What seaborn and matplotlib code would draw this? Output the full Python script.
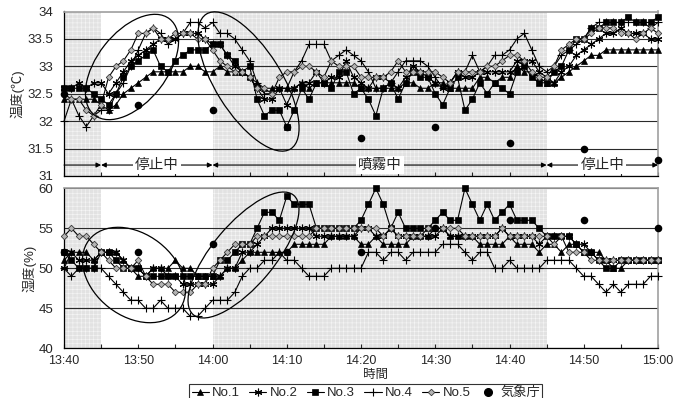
import matplotlib
matplotlib.use("Agg")
import matplotlib.pyplot as plt
import matplotlib.lines as mlines
from matplotlib.patches import Ellipse
from matplotlib.transforms import IdentityTransform
from matplotlib.ticker import FuncFormatter, MultipleLocator
import seaborn as sns

sns.set_style("white")
plt.rcParams['font.family'] = ['Liberation Sans', 'Noto Sans CJK JP']
plt.rcParams['hatch.linewidth'] = 0.4

# ---------------- data ----------------
minutes = list(range(81))          # 13:40 .. 15:00, every minute
tick_minutes = [0, 10, 20, 30, 40, 50, 60, 70, 80]
tick_labels = ["13:40", "13:50", "14:00", "14:10", "14:20", "14:30", "14:40", "14:50", "15:00"]
series_names = ["No.1", "No.2", "No.3", "No.4", "No.5"]

temp_no1 = [32.4, 32.4, 32.4, 32.4, 32.4, 32.3, 32.2, 32.3, 32.5, 32.6,
            32.7, 32.8, 32.9, 32.9, 32.9, 32.9, 32.9, 33.0, 33.0, 32.9,
            32.9, 33.0, 32.9, 32.9, 32.9, 32.8, 32.7, 32.6, 32.6, 32.6,
            32.6, 32.6, 32.7, 32.6, 32.7, 32.7, 32.7, 32.7, 32.7, 32.7,
            32.6, 32.6, 32.6, 32.6, 32.6, 32.6, 32.7, 32.7, 32.6, 32.6,
            32.7, 32.7, 32.6, 32.6, 32.6, 32.6, 32.8, 32.8, 32.7, 32.8,
            32.8, 33.0, 32.9, 32.9, 32.8, 32.7, 32.7, 32.8, 32.9, 33.0,
            33.1, 33.2, 33.2, 33.3, 33.3, 33.3, 33.3, 33.3, 33.3, 33.3, 33.3]
temp_no2 = [32.6, 32.6, 32.7, 32.6, 32.7, 32.7, 32.5, 32.7, 32.9, 33.1,
            33.2, 33.3, 33.4, 33.5, 33.5, 33.5, 33.6, 33.6, 33.6, 33.5,
            33.4, 33.4, 33.2, 33.0, 32.9, 32.8, 32.6, 32.4, 32.4, 32.6,
            32.3, 32.6, 32.7, 32.7, 32.9, 32.7, 32.8, 32.8, 33.1, 32.8,
            32.7, 32.6, 32.8, 32.8, 32.7, 32.6, 32.8, 33.0, 32.9, 32.8,
            32.7, 32.6, 32.7, 32.9, 32.8, 32.8, 32.9, 32.9, 32.9, 32.9,
            32.9, 33.1, 33.1, 33.1, 32.9, 32.8, 32.7, 32.9, 33.0, 33.2,
            33.3, 33.4, 33.5, 33.6, 33.6, 33.7, 33.6, 33.6, 33.6, 33.5, 33.5]
temp_no3 = [32.6, 32.6, 32.6, 32.6, 32.5, 32.4, 32.3, 32.5, 32.8, 33.0,
            33.1, 33.2, 33.3, 33.0, 32.9, 33.1, 33.2, 33.3, 33.3, 33.3,
            33.4, 33.4, 33.2, 33.1, 32.9, 33.0, 32.4, 32.1, 32.2, 32.2,
            31.9, 32.2, 32.6, 32.4, 32.7, 32.7, 32.6, 32.9, 32.9, 32.5,
            32.6, 32.4, 32.1, 32.6, 32.7, 32.4, 32.7, 32.9, 32.8, 32.8,
            32.5, 32.3, 32.6, 32.8, 32.2, 32.4, 32.7, 32.5, 32.7, 32.6,
            32.5, 32.9, 33.0, 32.8, 32.7, 32.7, 32.9, 33.0, 33.3, 33.5,
            33.5, 33.7, 33.7, 33.8, 33.8, 33.8, 33.9, 33.8, 33.8, 33.8, 33.9]
temp_no4 = [32.0, 32.4, 32.1, 31.9, 32.1, 32.2, 32.2, 32.5, 32.7, 33.0,
            33.3, 33.6, 33.7, 33.6, 33.4, 33.5, 33.6, 33.8, 33.8, 33.7,
            33.8, 33.6, 33.6, 33.5, 33.3, 33.1, 32.7, 32.5, 32.5, 32.6,
            32.6, 32.9, 33.1, 33.4, 33.4, 33.4, 33.1, 33.2, 33.3, 33.2,
            33.1, 32.9, 32.6, 32.6, 32.7, 32.9, 33.1, 33.1, 33.1, 33.0,
            32.8, 32.6, 32.7, 32.9, 32.9, 33.2, 32.9, 33.0, 33.2, 33.2,
            33.3, 33.5, 33.6, 33.3, 33.0, 32.9, 33.0, 33.2, 33.3, 33.4,
            33.5, 33.7, 33.8, 33.8, 33.8, 33.8, 33.8, 33.8, 33.8, 33.7, 33.8]
temp_no5 = [32.5, 32.4, 32.4, 32.2, 32.1, 32.3, 32.8, 33.0, 33.1, 33.3,
            33.6, 33.6, 33.7, 33.5, 33.5, 33.6, 33.6, 33.6, 33.5, 33.5,
            33.3, 33.1, 33.0, 32.9, 32.9, 32.8, 32.6, 32.6, 32.5, 32.8,
            32.9, 32.9, 33.0, 33.0, 32.9, 32.8, 33.1, 33.0, 33.0, 33.0,
            32.8, 32.8, 32.8, 32.8, 32.9, 33.1, 32.9, 32.9, 32.9, 32.9,
            32.9, 32.8, 32.7, 32.9, 32.9, 32.9, 32.9, 33.0, 33.0, 33.1,
            33.2, 33.2, 33.1, 32.9, 32.8, 32.8, 33.0, 33.3, 33.4, 33.5,
            33.5, 33.6, 33.7, 33.7, 33.7, 33.6, 33.6, 33.5, 33.6, 33.7, 33.6]

hum_no1 = [51, 52, 52, 52, 51, 52, 52, 52, 51, 50,
           49, 49, 50, 50, 50, 51, 50, 50, 49, 49,
           49, 49, 50, 50, 51, 52, 52, 52, 52, 52,
           52, 53, 53, 53, 53, 53, 54, 54, 54, 54,
           53, 53, 54, 53, 53, 53, 53, 54, 54, 54,
           55, 55, 54, 54, 54, 54, 53, 53, 53, 53,
           54, 53, 53, 53, 52, 53, 53, 52, 53, 53,
           52, 52, 52, 51, 50, 50, 51, 51, 51, 51, 51]
hum_no2 = [50, 52, 51, 51, 51, 52, 52, 52, 51, 50,
           50, 49, 50, 50, 49, 49, 48, 48, 48, 48,
           48, 49, 50, 50, 52, 52, 53, 54, 55, 55,
           55, 55, 55, 55, 54, 54, 54, 54, 54, 54,
           55, 55, 54, 54, 55, 54, 54, 54, 54, 54,
           54, 55, 54, 54, 54, 54, 54, 54, 54, 55,
           54, 54, 54, 54, 53, 54, 54, 54, 54, 53,
           53, 52, 51, 51, 51, 51, 51, 51, 51, 51, 51]
hum_no3 = [52, 51, 50, 50, 50, 52, 52, 51, 50, 50,
           50, 49, 49, 49, 49, 49, 49, 49, 49, 49,
           49, 51, 51, 52, 53, 53, 55, 57, 57, 56,
           59, 58, 58, 58, 55, 55, 55, 55, 55, 55,
           56, 58, 60, 58, 55, 57, 55, 55, 55, 55,
           56, 57, 56, 56, 60, 58, 56, 58, 56, 57,
           58, 56, 56, 56, 55, 54, 54, 54, 54, 53,
           52, 52, 51, 50, 50, 51, 51, 51, 51, 51, 51]
hum_no4 = [50, 49, 50, 50, 50, 50, 49, 48, 47, 46,
           46, 45, 45, 46, 45, 45, 45, 44, 44, 45,
           46, 46, 46, 47, 49, 50, 50, 51, 51, 52,
           51, 51, 50, 49, 49, 49, 50, 50, 50, 50,
           50, 52, 52, 51, 52, 52, 51, 52, 52, 52,
           52, 53, 53, 53, 52, 51, 52, 52, 50, 50,
           51, 50, 50, 50, 50, 51, 51, 51, 51, 50,
           49, 49, 48, 47, 48, 47, 48, 48, 48, 49, 49]
hum_no5 = [54, 55, 54, 54, 53, 52, 51, 50, 50, 50,
           51, 49, 48, 48, 48, 47, 47, 47, 48, 48,
           50, 51, 52, 53, 53, 53, 54, 54, 54, 54,
           54, 54, 54, 54, 55, 55, 55, 55, 55, 55,
           55, 55, 55, 54, 55, 54, 54, 54, 54, 55,
           55, 55, 55, 55, 54, 54, 54, 54, 54, 55,
           54, 54, 54, 54, 54, 54, 53, 54, 52, 52,
           52, 51, 51, 51, 51, 51, 51, 51, 51, 51, 51]

jma_minutes = [0, 10, 20, 30, 40, 50, 60, 70, 80]
jma_temp = [32.5, 32.3, 32.2, 31.9, 31.7, 31.9, 31.6, 31.5, 31.3]
jma_hum = [52, 52, 53, 52, 52, 55, 56, 56, 55]
jma_label = "気象庁"

temp_ticks = [31, 31.5, 32, 32.5, 33, 33.5, 34]
hum_ticks = [40, 45, 50, 55, 60]
shaded_spans = [(0, 5), (20, 65)]
arrow_segments = [(0, 5), (5, 20), (20, 65), (65, 80)]
phase_labels = ["停止中", "噴霧中", "停止中"]
phase_centers = [12.5, 42.5, 72.5]

temps = [temp_no1, temp_no2, temp_no3, temp_no4, temp_no5]
hums = [hum_no1, hum_no2, hum_no3, hum_no4, hum_no5]

# ---------------- styles ----------------
styles = [
    dict(marker='^', markersize=4, markerfacecolor='k', markeredgecolor='k', markeredgewidth=0.5),
    dict(marker=(6, 2, 0), markersize=5.5, markerfacecolor='k', markeredgecolor='k', markeredgewidth=0.8),
    dict(marker='s', markersize=4, markerfacecolor='k', markeredgecolor='k', markeredgewidth=0.5),
    dict(marker='+', markersize=5.5, markerfacecolor='k', markeredgecolor='k', markeredgewidth=0.8),
    dict(marker='D', markersize=3.3, markerfacecolor='#b4b4b4', markeredgecolor='#3a3a3a', markeredgewidth=0.6),
]

W, H = 673, 398
fig = plt.figure(figsize=(W / 100, H / 100), dpi=100)
fig.patch.set_facecolor('white')
ax1 = fig.add_axes([64 / W, 1 - 176 / H, 594 / W, 164.5 / H])
ax2 = fig.add_axes([64 / W, 1 - 348.3 / H, 594 / W, 160 / H])

for ax, data, jma, ylim, yt in [(ax1, temps, jma_temp, (31, 34), temp_ticks),
                                 (ax2, hums, jma_hum, (40, 60), hum_ticks)]:
    for (a, b) in shaded_spans:
        ax.axvspan(a, b, facecolor='#e2e2e2', edgecolor='#f6f6f6', hatch='++++', lw=0, zorder=0)
    for vals, st, name in zip(data, styles, series_names):
        sns.lineplot(x=minutes, y=vals, ax=ax, color='k', lw=0.8, clip_on=False,
                     zorder=3, legend=False, **st)
    sns.scatterplot(x=jma_minutes, y=jma, ax=ax, color='k', s=30, marker='o',
                    edgecolor='k', linewidth=0, zorder=4, clip_on=False, legend=False)
    ax.set_xlim(0, 80)
    ax.set_ylim(*ylim)
    ax.set_yticks(yt)
    ax.yaxis.set_major_formatter(FuncFormatter(lambda v, p: f"{v:g}"))
    ax.set_xticks(tick_minutes)
    ax.xaxis.set_minor_locator(MultipleLocator(5))
    ax.tick_params(axis='x', which='both', direction='in', length=3, width=0.8,
                   bottom=True, top=False, labelsize=9, pad=5)
    ax.tick_params(axis='y', length=0, pad=7.5, labelsize=9.5)
    ax.yaxis.grid(True, color='#2a2a2a', lw=0.8)
    ax.xaxis.grid(False)
    ax.set_axisbelow(True)
    ax.set_xlabel('')
    ax.set_ylabel('')
    for s in ['top', 'right']:
        ax.spines[s].set_color('#a0a0a0')
        ax.spines[s].set_linewidth(1.2)
    for s in ['left', 'bottom']:
        ax.spines[s].set_color('k')
        ax.spines[s].set_linewidth(0.9)

ax1.set_xticklabels([])
ax2.set_xticklabels(tick_labels)

# phase arrows and labels
arrow_y = 31.2
for i, (a, b) in enumerate(arrow_segments):
    style = '-|>' if i == 0 else '<|-|>'
    ax1.annotate('', xy=(b, arrow_y), xytext=(a, arrow_y),
                 arrowprops=dict(arrowstyle=style, color='k', lw=0.8,
                                 mutation_scale=7, shrinkA=0, shrinkB=0), zorder=5)
for lab, c in zip(phase_labels, phase_centers):
    ax1.text(c, arrow_y, lab, ha='center', va='center', fontsize=10.5, zorder=6,
             bbox=dict(facecolor='white', edgecolor='none', pad=1.5))

# ellipses (pixel geometry)
ellipses = [((132, 67), 122, 70, 52), ((248.5, 81.5), 159, 66, -58),
            ((134, 275), 114, 82, -38), ((243.5, 255), 156, 62, 50)]
for (cx, cy), w, h, ang in ellipses:
    e = Ellipse((cx, H - cy), w, h, angle=ang, transform=IdentityTransform(),
                fill=False, edgecolor='k', lw=0.9, zorder=10)
    fig.add_artist(e)

# axis labels
fig.text(17 / W, 1 - 94 / H, '温度(℃)', rotation=90, ha='center', va='center', fontsize=9.5)
fig.text(29 / W, 1 - 268 / H, '湿度(%)', rotation=90, ha='center', va='center', fontsize=9.5)
fig.text(376 / W, 1 - 375 / H, '時間', ha='center', va='center', fontsize=9)

# legend
handles = [mlines.Line2D([], [], color='k', lw=0.8, **st) for st in styles]
handles.append(mlines.Line2D([], [], color='k', ls='none', marker='o', markersize=5.5))
labels = series_names + [jma_label]
leg = fig.legend(handles, labels, loc='upper left', bbox_to_anchor=(189 / W, 1 - 384 / H),
                 ncol=6, frameon=True, fancybox=False, edgecolor='k', fontsize=9.5,
                 handlelength=1.3, handletextpad=0.25, columnspacing=0.7,
                 borderpad=0.2, borderaxespad=0)
leg.get_frame().set_linewidth(0.8)

fig.savefig('out.png', dpi=100, facecolor='white')
